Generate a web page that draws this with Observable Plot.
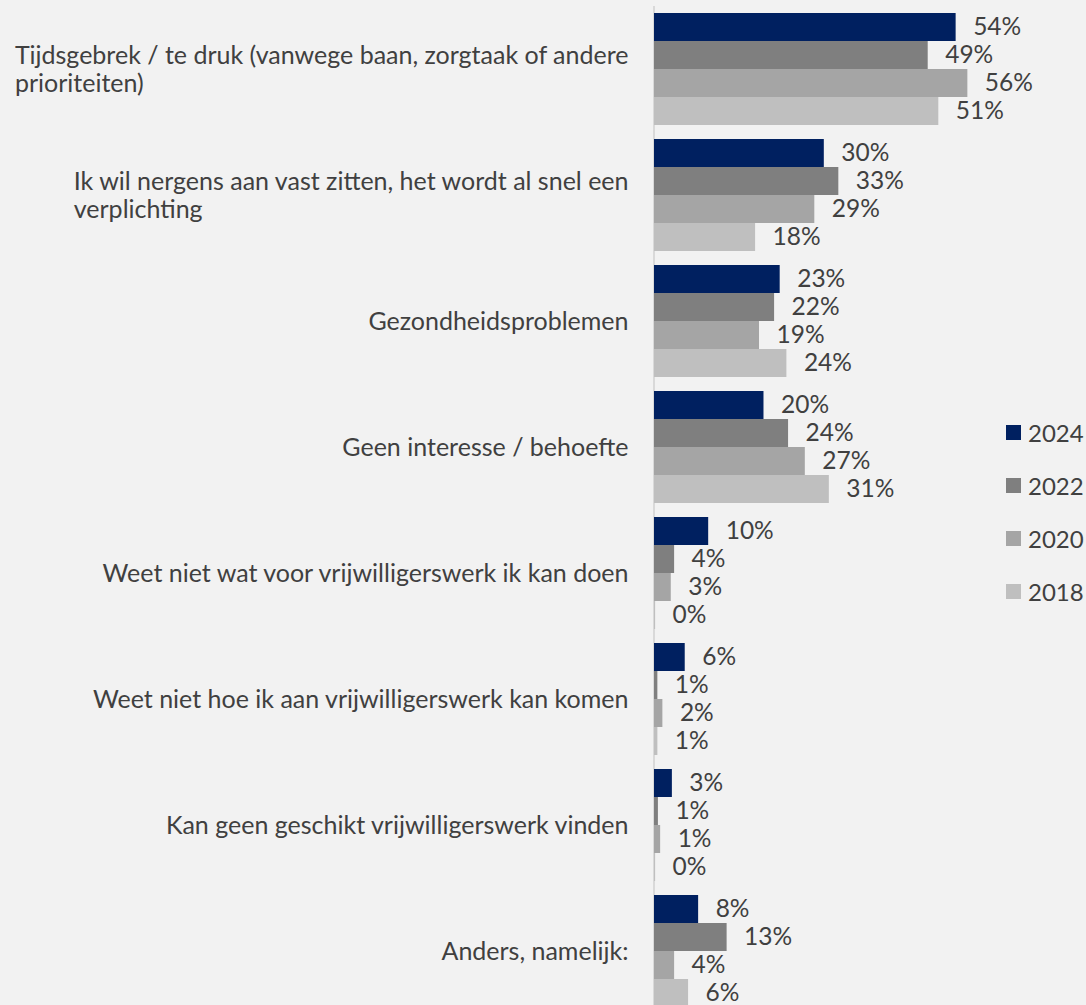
<!DOCTYPE html>
<html>
<head>
<meta charset="utf-8">
<script src="https://cdn.jsdelivr.net/npm/d3@7"></script>
<script src="https://cdn.jsdelivr.net/npm/@observablehq/plot@0.6"></script>
<style>
  html, body { margin: 0; padding: 0; background: #f2f2f2; overflow: hidden; }
  #wrap { position: relative; width: 1086px; height: 1005px; font-family: Lato, "Open Sans", sans-serif; }
  #legend { position: absolute; left: 1006px; top: 406px; }
  #legend .row { height: 53px; display: flex; align-items: center; }
  #legend .sw { width: 15px; height: 15px; margin-right: 7px; }
  #legend .lab { font-size: 24px; color: #404040; }
</style>
</head>
<body>
<div id="wrap"><div id="legend"></div></div>
<script>
// ---- data ----
const categories = [
  "Tijdsgebrek / te druk (vanwege baan, zorgtaak of andere\nprioriteiten)",
  "Ik wil nergens aan vast zitten, het wordt al snel een\nverplichting",
  "Gezondheidsproblemen",
  "Geen interesse / behoefte",
  "Weet niet wat voor vrijwilligerswerk ik kan doen",
  "Weet niet hoe ik aan vrijwilligerswerk kan komen",
  "Kan geen geschikt vrijwilligerswerk vinden",
  "Anders, namelijk:"
];
const years = ["2024", "2022", "2020", "2018"];
const values2024 = [54.0, 30.4, 22.5, 19.6, 9.7, 5.5, 3.2, 7.9];
const values2022 = [49.0, 33.0, 21.5, 24.0, 3.6, 0.6, 0.7, 13.0];
const values2020 = [56.1, 28.7, 18.8, 27.0, 3.0, 1.5, 1.1, 3.6];
const values2018 = [50.9, 18.1, 23.7, 31.3, 0.2, 0.6, 0.2, 6.1];
const yearColors = ["#002060", "#7f7f7f", "#a5a5a5", "#bfbfbf"];

const seriesByYear = {"2024": values2024, "2022": values2022, "2020": values2020, "2018": values2018};
const rows = [];
categories.forEach((c, i) => {
  years.forEach(y => rows.push({category: c, year: y, value: seriesByYear[y][i]}));
});

const textColor = "#404040";
const chart = Plot.plot({
  width: 1086,
  height: 1014,
  marginTop: 6,
  marginBottom: 0,
  marginLeft: 654,
  marginRight: 41,
  style: {background: "transparent", fontFamily: "Lato, 'Open Sans', sans-serif", overflow: "visible"},
  x: {domain: [0, 70], axis: null},
  y: {domain: years, axis: null, padding: 0, round: false},
  fy: {domain: categories, axis: null, paddingInner: 14 / 126, paddingOuter: 7 / 126, round: false},
  color: {domain: years, range: yearColors},
  marks: [
    Plot.ruleX([0], {stroke: "#d0d0d0", strokeWidth: 1.5, insetTop: -7, insetBottom: -7, dx: -0.5}),
    Plot.barX(rows, {x: "value", y: "year", fy: "category", fill: "year"}),
    Plot.text(rows, {
      x: "value", y: "year", fy: "category",
      text: d => Math.round(d.value) + "%",
      textAnchor: "start", dx: 17, fill: textColor, fontSize: 24.5
    }),
    Plot.text(categories, {
      fy: d => d, text: d => d, frameAnchor: "left", textAnchor: "end",
      dx: -26, fill: textColor, fontSize: 25, lineHeight: 1.12, className: "cat-label"
    })
  ]
});

document.getElementById("wrap").prepend(chart);

// Multi-line category labels: left-aligned lines in a right-aligned block
function alignLabels() {
  chart.querySelectorAll("g.cat-label text").forEach(el => {
    if (!el.dataset.t0) el.dataset.t0 = el.getAttribute("transform") || "";
    el.setAttribute("text-anchor", "end");
    el.setAttribute("transform", el.dataset.t0);
    const bb = el.getBBox();
    el.setAttribute("text-anchor", "start");
    el.setAttribute("transform", el.dataset.t0 + ` translate(${bb.x},0)`);
  });
}
alignLabels();
if (document.fonts && document.fonts.ready) document.fonts.ready.then(alignLabels);

// Legend
const legend = d3.select("#legend");
years.forEach((y, i) => {
  const r = legend.append("div").attr("class", "row");
  r.append("div").attr("class", "sw").style("background", yearColors[i]);
  r.append("div").attr("class", "lab").text(y);
});
</script>
</body>
</html>
